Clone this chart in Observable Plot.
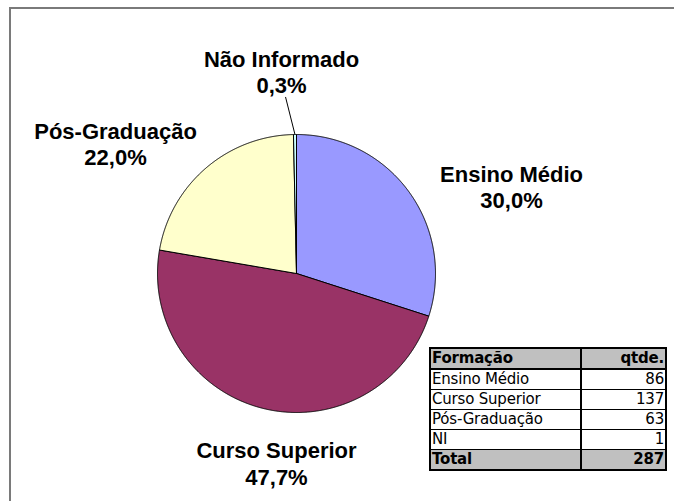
<!DOCTYPE html>
<html><head><meta charset="utf-8">
<script src="https://cdn.jsdelivr.net/npm/d3@7"></script>
<script src="https://cdn.jsdelivr.net/npm/@observablehq/plot@0.6"></script>
<style>
html,body{margin:0;padding:0;background:#fff;overflow:hidden;}
#wrap{position:relative;width:674px;height:501px;overflow:hidden;}
#chart{position:absolute;left:0;top:0;}
.edge{position:absolute;background:#7a7a7a;pointer-events:none;}
#edgeTop{left:9px;top:7px;width:665px;height:2px;}
#edgeLeft{left:9px;top:7px;width:2px;height:494px;}
#tbl{position:absolute;left:429px;top:347px;}
table{border-collapse:collapse;border:2px solid #000;font-family:"DejaVu Sans",sans-serif;font-size:15px;letter-spacing:-0.2px;color:#000;}
td{border:1px solid #000;padding:0 1px;height:19px;line-height:19px;white-space:nowrap;}
td.c1{width:147px;border-right:2px solid #000;}
td.c2{width:81px;text-align:right;}
tr.head td{background:#c0c0c0;font-weight:bold;border-bottom:2px solid #000;}
tr.tot td{background:#c0c0c0;font-weight:bold;}
</style>
</head><body>
<div id="wrap"><div id="chart"></div><div class="edge" id="edgeTop"></div><div class="edge" id="edgeLeft"></div><div id="tbl"></div></div>
<script>
// ---- data ----
const categories = ["Ensino Médio", "Curso Superior", "Pós-Graduação", "NI"];
const chartLabels = ["Ensino Médio", "Curso Superior", "Pós-Graduação", "Não Informado"];
const counts = [86, 137, 63, 1];
const colors = ["#9999ff", "#993366", "#ffffcc", "#ccffff"];
const tableHeader = ["Formação", "qtde."];
const totalLabel = "Total";

// ---- layout (label anchors in radius units, relative to pie centre) ----
const labelLayout = {
  "Ensino Médio": [1.547, 0.468],
  "Curso Superior": [-0.144, -1.518],
  "Pós-Graduação": [-1.302, 0.777],
  "Não Informado": [-0.108, 1.295]
};
const leaderStart = [-0.079, 1.27];

const total = d3.sum(counts);
const fmt = v => (Math.round(v * 1000) / 10).toFixed(1).replace(".", ",") + "%";
const rows = categories.map((c, i) => ({cat: c, label: chartLabels[i], value: counts[i], color: colors[i]}));

const arcs = d3.pie().value(d => d.value).sort(null)(rows);
const pts = [];
for (const a of arcs) {
  const name = a.data.label;
  pts.push({name, x: 0, y: 0});
  const n = Math.max(2, Math.ceil((a.endAngle - a.startAngle) / (Math.PI / 720)));
  for (let k = 0; k <= n; k++) {
    const t = a.startAngle + (a.endAngle - a.startAngle) * k / n;
    pts.push({name, x: Math.sin(t), y: Math.cos(t)});
  }
  pts.push({name, x: 0, y: 0});
}

const labels = arcs.map(a => ({
  x: labelLayout[a.data.label][0],
  y: labelLayout[a.data.label][1],
  text: a.data.label + "\n" + fmt(a.data.value / total)
}));

const ni = arcs[3];
const midNI = (ni.startAngle + ni.endAngle) / 2;
const leader = [{x1: leaderStart[0], y1: leaderStart[1], x2: Math.sin(midNI), y2: Math.cos(midNI)}];

const cx = 296, cy = 273, r = 139;
const plot = Plot.plot({
  width: 674, height: 501, margin: 0,
  style: {background: "#fff", overflow: "hidden"},
  x: {domain: [-1, 1], range: [cx - r, cx + r], axis: null},
  y: {domain: [-1, 1], range: [cy + r, cy - r], axis: null},
  color: {domain: chartLabels, range: colors},
  marks: [
    Plot.line(pts, {x: "x", y: "y", z: "name", fill: "name", stroke: "#000", strokeWidth: 1, curve: "linear"}),
    Plot.link(leader, {x1: "x1", y1: "y1", x2: "x2", y2: "y2", stroke: "#000", strokeWidth: 1}),
    Plot.text(labels, {x: "x", y: "y", text: "text", fontSize: 22, fontWeight: "bold",
      fontFamily: "'Liberation Sans', Arial, sans-serif", lineAnchor: "bottom", lineHeight: 1.2, fill: "#000"})
  ]
});
document.getElementById("chart").appendChild(plot);

// ---- table ----
let html = "<table>";
html += `<tr class="head"><td class="c1">${tableHeader[0]}</td><td class="c2">${tableHeader[1]}</td></tr>`;
for (const d of rows) html += `<tr><td class="c1">${d.cat}</td><td class="c2">${d.value}</td></tr>`;
html += `<tr class="tot"><td class="c1">${totalLabel}</td><td class="c2">${total}</td></tr>`;
html += "</table>";
document.getElementById("tbl").innerHTML = html;
</script>
</body></html>
